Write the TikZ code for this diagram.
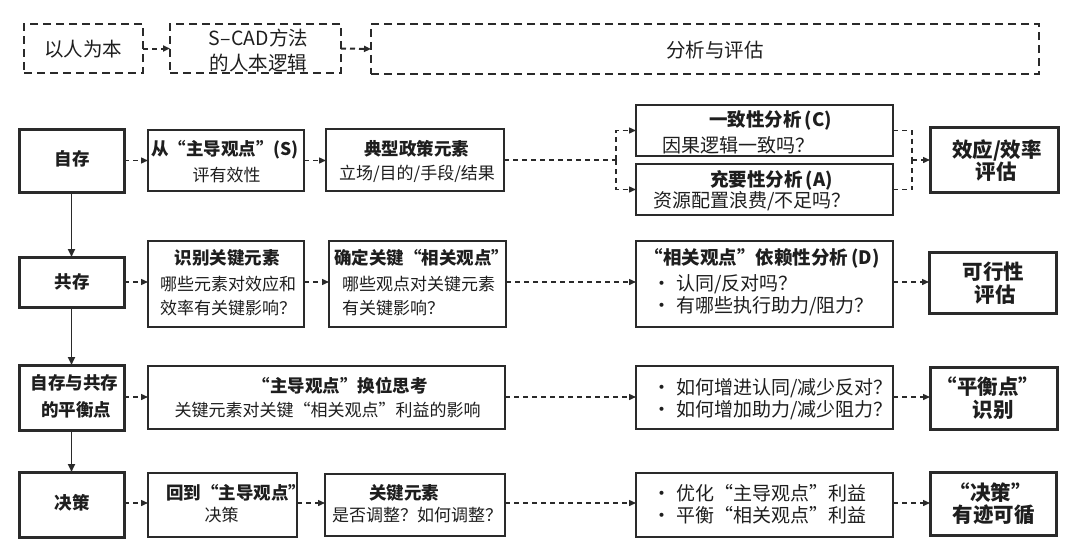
\documentclass[tikz,border=0pt]{standalone}
\usepackage{fontspec}
\setmainfont{Noto Sans CJK SC}
\usetikzlibrary{arrows.meta}
\definecolor{ink}{HTML}{1E1E1E}
\definecolor{ln}{HTML}{2A2A2A}
\newcommand\mkbox[6]{\node[#1,anchor=north west,minimum width={(#4-#2)*1pt},minimum height={(#5-#3)*1pt}] (#6) at (#2,#3) {};}
\begin{document}
\begin{tikzpicture}[x=1pt,y=-1pt,
  thinbox/.style={draw=ln,line width=1.3pt,inner sep=0pt,outer sep=0pt},
  thickbox/.style={draw=ln,line width=3pt,inner sep=0pt,outer sep=0pt},
  topbox/.style={draw=ln,line width=2.2pt,dash pattern=on 8pt off 5pt,inner sep=0pt,outer sep=0pt},
  conn/.style={draw=ln,line width=1.4pt,dash pattern=on 5pt off 4pt,-{Triangle[length=7pt,width=6pt]}},
  plainconn/.style={draw=ln,line width=1.4pt,dash pattern=on 5pt off 4pt},
  vconn/.style={draw=ln,line width=1.9pt,-{Triangle[length=8pt,width=7pt]}},
  topconn/.style={draw=ln,line width=2pt,dash pattern=on 5pt off 4pt,-{Triangle[length=7pt,width=6pt]}},
  txt/.style={inner sep=0pt,text=ink},
  toptxt/.style={txt,font=\fontsize{19.5}{22}\selectfont},
  lefttxt/.style={txt,font=\fontsize{17.5}{20}\selectfont\bfseries},
  righttxt/.style={txt,font=\fontsize{20.5}{23}\selectfont\bfseries},
  hd/.style={txt,font=\fontsize{17.5}{20}\selectfont\bfseries},
  bd/.style={txt,font=\fontsize{17}{20}\selectfont},
  hdb/.style={txt,font=\fontsize{18.5}{21}\selectfont\bfseries},
  bdb/.style={txt,font=\fontsize{19}{22}\selectfont},
]
\useasboundingbox[fill=white] (0,0) rectangle (1080,554);

% top row
\mkbox{topbox}{24}{24}{143}{73}{t1}
\mkbox{topbox}{170}{24}{341}{73}{t2}
\mkbox{topbox}{371}{24}{1039}{74}{t3}
\node[toptxt] (t1a) at (83.5,49) {以人为本};
\node[toptxt] (t2a) at (258.5,38) {S–CAD方法};
\node[toptxt] (t2b) at (258.5,63) {的人本逻辑};
\node[toptxt] (t3a) at (715,50) {分析与评估};
\draw[topconn] (t1.east) -- (t2.west);
\draw[topconn] (t2.east) -- (t3.west);

% left column
\mkbox{thickbox}{19}{129}{124}{192}{zc}
\mkbox{thickbox}{19}{257}{124}{307}{gc}
\mkbox{thickbox}{19}{365}{124}{430}{ph}
\mkbox{thickbox}{19}{472}{124}{537}{jc}
\node[lefttxt] (zca) at (72,159) {自存};
\node[lefttxt] (gca) at (72,282) {共存};
\node[lefttxt] (pha) at (74.5,383) {自存与共存};
\node[lefttxt] (phb) at (76.5,410) {的平衡点};
\node[lefttxt] (jca) at (72,503) {决策};
\draw[vconn] (zc.south) -- (gc.north);
\draw[vconn] (gc.south) -- (ph.north);
\draw[vconn] (ph.south) -- (jc.north);

% right column
\mkbox{thickbox}{930}{127}{1058}{192}{eff}
\mkbox{thickbox}{929}{252}{1056}{313}{kx}
\mkbox{thickbox}{930}{367}{1057}{429}{bal}
\mkbox{thickbox}{930}{472}{1056}{535}{dec}
\node[righttxt] (effa) at (997,150) {效应/效率};
\node[righttxt] (effb) at (996,172) {评估};
\node[righttxt] (kxa) at (993.5,272) {可行性};
\node[righttxt] (kxb) at (995,295) {评估};
\node[righttxt] (bala) at (988,387) {“平衡点”};
\node[righttxt] (balb) at (993,410) {识别};
\node[righttxt] (deca) at (990.5,493) {“决策”};
\node[righttxt] (decb) at (993.5,515) {有迹可循};

% row 1
\mkbox{thinbox}{148}{130}{304}{191}{cong}
\mkbox{thinbox}{326}{129}{504}{191}{typ}
\mkbox{thinbox}{636}{105}{893}{156}{cbox}
\mkbox{thinbox}{636}{164}{893}{215}{abox}
\node[hd] (conga) at (225,150) {从“主导观点”(S)};
\node[bd] (congb) at (226.5,175) {评有效性};
\node[hd] (typa) at (416.5,149) {典型政策元素};
\node[bd] (typb) at (417,174) {立场/目的/手段/结果};
\node[hdb] (cboxa) at (770.5,120) {一致性分析\,(C)};
\node[bdb,anchor=west] (cboxb) at (662,145) {因果逻辑一致吗？};
\node[hdb] (aboxa) at (771.5,180) {充要性分析\,(A)};
\node[bdb,anchor=west] (aboxb) at (653,201) {资源配置浪费/不足吗？};
\coordinate (split) at (616,160);
\coordinate (merge) at (912,160);
\draw[conn] (zc.east) -- (zc.east -| cong.west);
\draw[conn] (cong.east) -- (cong.east -| typ.west);
\draw[plainconn] (typ.east) -- (split);
\draw[conn] (split) |- (cbox.west);
\draw[conn] (split) |- (abox.west);
\draw[plainconn] (cbox.east) -| (merge);
\draw[plainconn] (abox.east) -| (merge);
\draw[conn] (merge) -- (merge -| eff.west);

% row 2
\mkbox{thinbox}{148}{241}{304}{327}{sb}
\mkbox{thinbox}{329}{241}{506}{327}{qd}
\mkbox{thinbox}{636}{241}{893}{327}{dep}
\node[hd] (sba) at (227,258) {识别关键元素};
\node[bd,anchor=west] (sbb) at (160,284) {哪些元素对效应和};
\node[bd,anchor=west] (sbc) at (160,308) {效率有关键影响？};
\node[hd,anchor=west] (qda) at (334,258) {确定关键“相关观点”};
\node[bd,anchor=west] (qdb) at (342,284) {哪些观点对关键元素};
\node[bd,anchor=west] (qdc) at (342,308) {有关键影响？};
\node[hdb] (depa) at (762,258) {“相关观点”依赖性分析\,(D)};
\node[bdb,anchor=west] (depb) at (652,284) {·\hspace{5pt}认同/反对吗？};
\node[bdb,anchor=west] (depc) at (652,306) {·\hspace{5pt}有哪些执行助力/阻力？};
\draw[conn] (gc.east) -- (gc.east -| sb.west);
\draw[conn] (gc.east -| sb.east) -- (gc.east -| qd.west);
\draw[conn] (gc.east -| qd.east) -- (gc.east -| dep.west);
\draw[conn] (gc.east -| dep.east) -- (gc.east -| kx.west);

% row 3
\mkbox{thinbox}{148}{366}{505}{429}{hw}
\mkbox{thinbox}{636}{366}{893}{429}{bq}
\node[hd] (hwa) at (340,386) {“主导观点”换位思考};
\node[bd] (hwb) at (327.5,410) {关键元素对关键“相关观点”利益的影响};
\node[bdb,anchor=west] (bqa) at (652,388) {·\hspace{5pt}如何增进认同/减少反对？};
\node[bdb,anchor=west] (bqb) at (652,410) {·\hspace{5pt}如何增加助力/减少阻力？};
\coordinate (r3) at (0,397);
\draw[conn] (r3 -| ph.east) -- (r3 -| hw.west);
\draw[conn] (r3 -| hw.east) -- (r3 -| bq.west);
\draw[conn] (r3 -| bq.east) -- (r3 -| bal.west);

% row 4
\mkbox{thinbox}{148}{473}{297}{537}{hd4}
\mkbox{thinbox}{325}{474}{505}{536}{gj}
\mkbox{thinbox}{636}{473}{893}{537}{yh}
\node[hd,anchor=west] (hd4a) at (166,493) {回到“主导观点”};
\node[bd] (hd4b) at (221.5,515) {决策};
\node[hd] (gja) at (404,493) {关键元素};
\node[bd,anchor=west] (gjb) at (332,515) {是否调整？如何调整？};
\node[bdb,anchor=west] (yha) at (652,493) {·\hspace{5pt}优化“主导观点”利益};
\node[bdb,anchor=west] (yhb) at (652,515) {·\hspace{5pt}平衡“相关观点”利益};
\coordinate (r4) at (0,503);
\draw[conn] (r4 -| jc.east) -- (r4 -| hd4.west);
\draw[conn] (r4 -| hd4.east) -- (r4 -| gj.west);
\draw[conn] (r4 -| gj.east) -- (r4 -| yh.west);
\draw[conn] (r4 -| yh.east) -- (r4 -| dec.west);
\end{tikzpicture}
\end{document}
